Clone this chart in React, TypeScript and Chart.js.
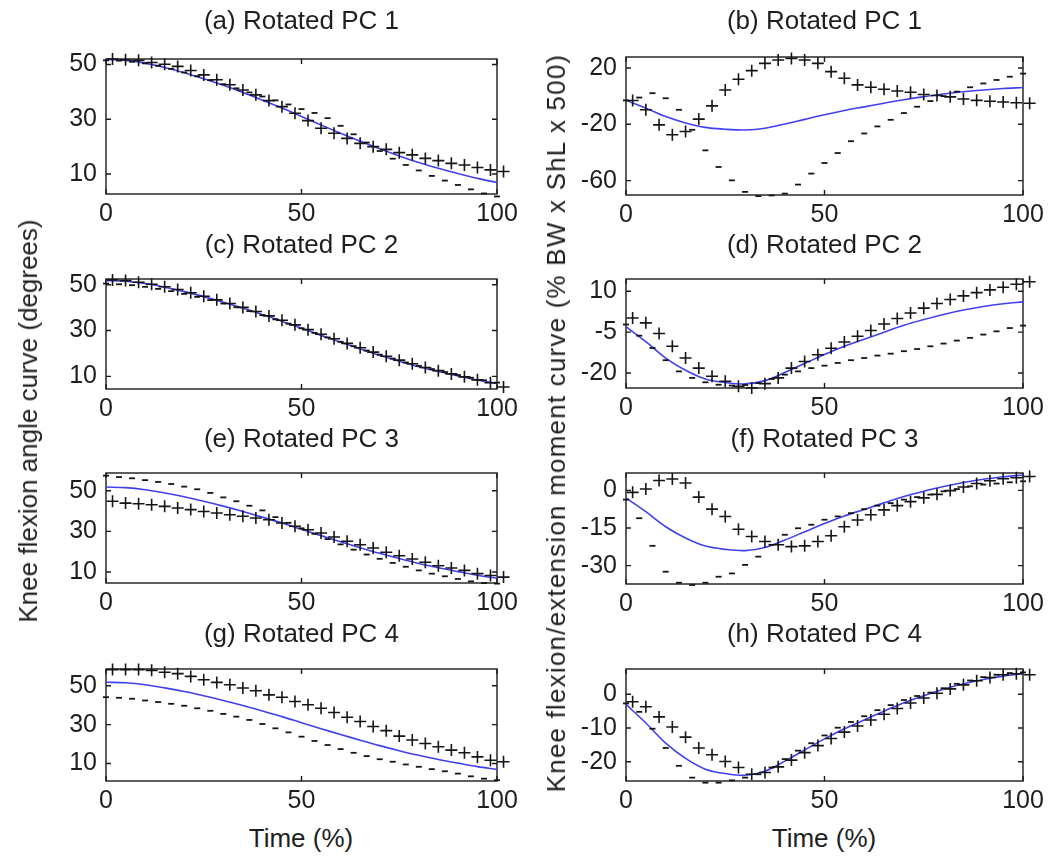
import React, { useEffect, useRef } from 'react';
import { Chart, registerables } from 'chart.js';

Chart.register(...registerables);

// ---------- sampling grids (percent of time) ----------
const MEAN_X = [0, 5, 10, 15, 20, 25, 30, 35, 40, 45, 50, 55, 60, 65, 70, 75, 80, 85, 90, 95, 100];
const PLUS_X = [1.67, 5, 8.33, 11.67, 15, 18.33, 21.67, 25, 28.33, 31.67, 35, 38.33, 41.67, 45, 48.33, 51.67, 55, 58.33, 61.67, 65, 68.33, 71.67, 75, 78.33, 81.67, 85, 88.33, 91.67, 95, 98.33, 101.67];
const DASH_X = [0, 3.33, 6.67, 10, 13.33, 16.67, 20, 23.33, 26.67, 30, 33.33, 36.67, 40, 43.33, 46.67, 50, 53.33, 56.67, 60, 63.33, 66.67, 70, 73.33, 76.67, 80, 83.33, 86.67, 90, 93.33, 96.67, 100];

// ---------- tick labels ----------
const X_TICKS = [0, 50, 100];
const ANGLE_TICKS = [10, 30, 50];
const PC1_MOMENT_TICKS = [-60, -20, 20];
const PC2_MOMENT_TICKS = [-20, -5, 10];
const PC3_MOMENT_TICKS = [-30, -15, 0];
const PC4_MOMENT_TICKS = [-20, -10, 0];

// ---------- mean curves ----------
const ANGLE_MEAN = [51.8, 51.5, 50.5, 48.9, 47, 44.8, 42.4, 39.8, 37, 34.1, 31, 27.9, 24.9, 22, 19.2, 16.6, 14.2, 12.1, 10.2, 8.4, 6.9];
const MOMENT_MEAN = [-3, -8.5, -14.5, -19, -22.2, -23.5, -24, -22.8, -19.8, -16.5, -13.2, -10.2, -7.6, -5, -2.5, -0.4, 1.5, 3.1, 4.4, 5.4, 6.1];

// ---------- knee angle: + and - curves ----------
const PC1_ANGLE_PLUS = [52, 51.7, 51.5, 50.7, 50.1, 49.3, 47.8, 46.2, 44.4, 42.6, 40.7, 38.9, 36.8, 34.6, 32.2, 29.5, 26.7, 24.9, 23, 21.2, 20, 19, 17.8, 17, 15.7, 14.9, 13.9, 13.3, 12.4, 11.5, 10.9];
const PC1_ANGLE_MINUS = [51.5, 51.4, 51, 50.4, 49.5, 48.4, 47.1, 45.7, 44.3, 42.8, 41.3, 39.8, 38.3, 36.9, 35.4, 33.7, 32.3, 30.4, 27.6, 24.5, 21.5, 18.4, 15.6, 13.3, 11.3, 9.3, 7.6, 6, 4.4, 2.9, 1.8];
const PC2_ANGLE_PLUS = [52.1, 51.8, 51.1, 50.2, 49.1, 47.9, 46.5, 45, 43.4, 41.8, 40.1, 38.3, 36.4, 34.5, 32.5, 30.4, 28.4, 26.4, 24.4, 22.5, 20.6, 18.8, 17.1, 15.5, 13.9, 12.5, 11.1, 9.8, 8.5, 7.2, 5.4];
const PC2_ANGLE_MINUS = [50.5, 50.2, 49.8, 49.1, 48.2, 47.2, 46, 44.7, 43.3, 41.8, 40.2, 38.5, 36.7, 34.9, 33, 31, 29, 27, 25.1, 23.2, 21.3, 19.5, 17.8, 16.1, 14.6, 13.2, 11.9, 10.6, 9.4, 8.3, 7.3];
const PC3_ANGLE_PLUS = [44.8, 43.9, 43.6, 43.1, 42.3, 41.5, 40.7, 39.8, 39, 38.2, 37.4, 36.6, 35.7, 34.1, 32.5, 30.8, 29.2, 27.2, 25.1, 23.4, 21.8, 19.7, 18, 16.4, 14.8, 13.1, 12, 10.8, 9.2, 8.3, 7.5];
const PC3_ANGLE_MINUS = [57.4, 56.7, 56.1, 55.2, 54.3, 53.3, 52, 50.7, 48.9, 46.7, 44.8, 42.6, 40.3, 37, 34.2, 31.5, 28.8, 26.2, 23.6, 21, 18.6, 16.5, 14.5, 12.6, 10.8, 9.2, 7.9, 6.6, 5.4, 4.6, 4.3];
const PC4_ANGLE_PLUS = [58.3, 58.3, 58.3, 57.9, 56.9, 56.2, 54.8, 53.1, 51.7, 50.5, 48.8, 47.4, 45.3, 44.1, 41.9, 40.2, 38.4, 36.2, 33.8, 31.6, 29, 26.9, 24.1, 22.1, 20.3, 18.6, 16.9, 15.5, 13.4, 11.7, 10.9];
const PC4_ANGLE_MINUS = [44.1, 43.8, 43.3, 42.4, 41.6, 40.7, 39.7, 38.4, 37.1, 35.5, 34.1, 32.4, 30.3, 28.1, 26, 23.8, 21.6, 19.5, 17.4, 15.5, 13.8, 12.2, 10.9, 9.5, 8.3, 7.1, 6, 4.8, 3.4, 2.2, 1.4];

// ---------- knee moment: + and - curves ----------
const PC1_MOMENT_PLUS = [-3.1, -9.7, -20.4, -27.4, -25.1, -16.3, -6.9, 4.4, 12, 18.1, 23.3, 25.7, 26.8, 25.7, 23.3, 17.4, 12.7, 8, 6.3, 4.9, 3.7, 2.8, 1.2, 0.5, -0.5, -2, -3, -3.6, -4.2, -4.7, -5];
const PC1_MOMENT_MINUS = [-3, -1, 2.1, -1.5, -9.7, -23.9, -38.5, -50.3, -59.8, -68, -71, -70.5, -69.2, -62.8, -55, -47.5, -40.4, -32, -26.5, -21.5, -16.8, -12, -7.5, -3.5, 0, 3.2, 6.3, 9, 11.5, 13.8, 16];
const PC2_MOMENT_PLUS = [0.2, -1.6, -5.5, -10.2, -14.5, -18.2, -21.2, -23, -24.9, -25.5, -23.9, -21.8, -18.2, -15.8, -13.3, -10.9, -8.6, -6.5, -4.4, -2, 0, 2, 3.8, 5.5, 7, 8.3, 9.5, 10.5, 11.5, 12.6, 13.5];
const PC2_MOMENT_MINUS = [-2.2, -6.3, -10.8, -15.3, -19.4, -21.8, -23.4, -24.3, -24.6, -24.4, -23.7, -22.2, -20.6, -19.4, -18.2, -17.3, -16.3, -15.3, -14.5, -13.6, -12.9, -12, -11.2, -10.2, -9.2, -8.1, -7.1, -5.9, -4.7, -3.5, -2.6];
const PC3_MOMENT_PLUS = [-0.8, 0.5, 3.9, 4.5, 2.9, -2.7, -7.5, -10.4, -15.5, -18.4, -20.4, -21.7, -22.4, -22.1, -20.4, -18.1, -14.5, -11.8, -9.7, -7.8, -6.1, -4.5, -3, -1.6, -0.1, 1.3, 2.7, 3.8, 4.6, 5, 5.5];
const PC3_MOMENT_MINUS = [-3.7, -11.1, -22.1, -32.4, -36.8, -37.7, -36.8, -34.4, -33.1, -29.7, -26.4, -21.7, -17.7, -15.1, -13.7, -11.7, -10.4, -9.1, -7.5, -6.1, -5.1, -3.7, -2.7, -1.7, -0.4, 0.5, 1.6, 2.3, 2.7, 3.2, 3.6];
const PC4_MOMENT_PLUS = [-2.2, -3.7, -6.7, -9.7, -12.7, -15.9, -17.9, -19.9, -21.7, -23.7, -23.2, -21.5, -19.5, -17.3, -15.2, -13.1, -11.2, -9.4, -7.6, -5.9, -4.2, -2.6, -1.1, 0.3, 1.6, 2.8, 4, 5, 5.8, 6.1, 5.8];
const PC4_MOMENT_MINUS = [-2.7, -5.2, -10.2, -15.9, -21.2, -24.7, -26.2, -26.2, -25.5, -24.7, -23.7, -21.7, -19.2, -16.7, -14.5, -12.2, -9.9, -8.2, -6.5, -4.7, -3.2, -1.7, -0.5, 0.5, 1.8, 3.1, 4.1, 5.1, 5.8, 6.3, 6.5];

// ---------- layout / style ----------
const FONT = '"Liberation Sans", Arial, Helvetica, sans-serif';
const TEXT_COLOR = '#1e1e1e';
const PAD_L = 64;
const PAD_T = 28;
const PAD_R = 34;
const PAD_B = 38;

type PanelCfg = {
  title: string;
  titleY: number;
  left: number;
  top: number;
  width: number;
  height: number;
  yMin: number;
  yMax: number;
  yTicks: number[];
  mean: number[];
  plus: number[];
  minus: number[];
};

const PANELS: PanelCfg[] = [
  { title: '(a) Rotated PC 1', titleY: 20, left: 106, top: 59, width: 391, height: 135, yMin: 2.7, yMax: 52, yTicks: ANGLE_TICKS, mean: ANGLE_MEAN, plus: PC1_ANGLE_PLUS, minus: PC1_ANGLE_MINUS },
  { title: '(b) Rotated PC 1', titleY: 20, left: 626, top: 57, width: 397, height: 138, yMin: -70.2, yMax: 27.8, yTicks: PC1_MOMENT_TICKS, mean: MOMENT_MEAN, plus: PC1_MOMENT_PLUS, minus: PC1_MOMENT_MINUS },
  { title: '(c) Rotated PC 2', titleY: 244, left: 106, top: 279, width: 391, height: 110, yMin: 4.5, yMax: 52.5, yTicks: ANGLE_TICKS, mean: ANGLE_MEAN, plus: PC2_ANGLE_PLUS, minus: PC2_ANGLE_MINUS },
  { title: '(d) Rotated PC 2', titleY: 244, left: 626, top: 279, width: 397, height: 109, yMin: -25.5, yMax: 14.5, yTicks: PC2_MOMENT_TICKS, mean: MOMENT_MEAN, plus: PC2_MOMENT_PLUS, minus: PC2_MOMENT_MINUS },
  { title: '(e) Rotated PC 3', titleY: 438, left: 106, top: 473, width: 391, height: 110, yMin: 4.6, yMax: 58.7, yTicks: ANGLE_TICKS, mean: ANGLE_MEAN, plus: PC3_ANGLE_PLUS, minus: PC3_ANGLE_MINUS },
  { title: '(f) Rotated PC 3', titleY: 438, left: 626, top: 473, width: 397, height: 111, yMin: -37.3, yMax: 6.9, yTicks: PC3_MOMENT_TICKS, mean: MOMENT_MEAN, plus: PC3_MOMENT_PLUS, minus: PC3_MOMENT_MINUS },
  { title: '(g) Rotated PC 4', titleY: 633, left: 106, top: 669, width: 391, height: 112, yMin: 1, yMax: 58.6, yTicks: ANGLE_TICKS, mean: ANGLE_MEAN, plus: PC4_ANGLE_PLUS, minus: PC4_ANGLE_MINUS },
  { title: '(h) Rotated PC 4', titleY: 633, left: 626, top: 669, width: 397, height: 112, yMin: -25.7, yMax: 7.5, yTicks: PC4_MOMENT_TICKS, mean: MOMENT_MEAN, plus: PC4_MOMENT_PLUS, minus: PC4_MOMENT_MINUS },
];

const toPts = (xs: number[], ys: number[]) => xs.map((x, i) => ({ x, y: ys[i] }));

// MATLAB-like box with inward tick marks
const framePlugin = {
  id: 'matlabFrame',
  beforeDatasetsDraw(chart: any) {
    const { ctx, chartArea: a, scales } = chart;
    const xs = scales.x;
    const ys = scales.y;
    const tl = 5;
    ctx.save();
    ctx.strokeStyle = '#1a1a1a';
    ctx.lineWidth = 1.4;
    ctx.strokeRect(a.left, a.top, a.right - a.left, a.bottom - a.top);
    ctx.beginPath();
    ys.ticks.forEach((t: any) => {
      const py = ys.getPixelForValue(t.value);
      ctx.moveTo(a.left, py);
      ctx.lineTo(a.left + tl, py);
      ctx.moveTo(a.right, py);
      ctx.lineTo(a.right - tl, py);
    });
    xs.ticks.forEach((t: any) => {
      const px = xs.getPixelForValue(t.value);
      ctx.moveTo(px, a.top);
      ctx.lineTo(px, a.top + tl);
      ctx.moveTo(px, a.bottom);
      ctx.lineTo(px, a.bottom - tl);
    });
    ctx.stroke();
    ctx.restore();
  },
};

function Panel({ cfg }: { cfg: PanelCfg }) {
  const ref = useRef<HTMLCanvasElement>(null);
  const cw = cfg.width + PAD_L + PAD_R;
  const ch = cfg.height + PAD_T + PAD_B;

  useEffect(() => {
    if (!ref.current) return;
    const tickFont = { family: FONT, size: 25 };
    const chart = new Chart(ref.current, {
      type: 'line',
      data: {
        datasets: [
          {
            label: 'mean',
            data: toPts(MEAN_X, cfg.mean),
            borderColor: '#4141ec',
            borderWidth: 1.6,
            pointRadius: 0,
            tension: 0.35,
            fill: false,
            clip: false as any,
            order: 3,
          },
          {
            label: 'plus',
            data: toPts(PLUS_X, cfg.plus),
            showLine: false,
            pointStyle: 'cross',
            pointRadius: 6,
            pointBorderWidth: 1.6,
            pointBorderColor: '#151515',
            borderColor: '#151515',
            backgroundColor: '#151515',
            clip: false as any,
            order: 1,
          },
          {
            label: 'minus',
            data: toPts(DASH_X, cfg.minus),
            showLine: false,
            pointStyle: 'line',
            pointRadius: 3,
            pointBorderWidth: 1.8,
            pointBorderColor: '#151515',
            borderColor: '#151515',
            backgroundColor: '#151515',
            clip: false as any,
            order: 2,
          },
        ] as any,
      },
      options: {
        animation: false,
        responsive: false,
        devicePixelRatio: 1,
        events: [],
        layout: { padding: { left: 0, top: PAD_T, right: PAD_R, bottom: 0 } },
        plugins: {
          legend: { display: false },
          tooltip: { enabled: false },
          title: { display: false },
        },
        scales: {
          x: {
            type: 'linear',
            min: 0,
            max: 100,
            afterBuildTicks: (s: any) => {
              s.ticks = X_TICKS.map((v) => ({ value: v }));
            },
            afterFit: (s: any) => {
              s.height = PAD_B;
            },
            grid: { display: false, drawTicks: false },
            border: { display: false },
            ticks: {
              font: tickFont,
              color: TEXT_COLOR,
              padding: 5,
              maxRotation: 0,
              autoSkip: false,
              callback: (v: any) => String(v),
            },
          },
          y: {
            type: 'linear',
            min: cfg.yMin,
            max: cfg.yMax,
            afterBuildTicks: (s: any) => {
              s.ticks = cfg.yTicks.map((v) => ({ value: v }));
            },
            afterFit: (s: any) => {
              s.width = PAD_L;
            },
            grid: { display: false, drawTicks: false },
            border: { display: false },
            ticks: {
              font: tickFont,
              color: TEXT_COLOR,
              padding: 9,
              autoSkip: false,
              callback: (v: any) => String(v),
            },
          },
        },
      } as any,
      plugins: [framePlugin],
    });
    return () => chart.destroy();
  }, [cfg]);

  return (
    <canvas
      ref={ref}
      width={cw}
      height={ch}
      style={{
        position: 'absolute',
        left: cfg.left - PAD_L,
        top: cfg.top - PAD_T,
        width: cw,
        height: ch,
        display: 'block',
      }}
    />
  );
}

const textStyle = (cx: number, cy: number, size: number, rotate = 0, spacing = 0): React.CSSProperties => ({
  position: 'absolute',
  left: cx,
  top: cy,
  transform: `translate(-50%, -50%) rotate(${rotate}deg)`,
  fontFamily: FONT,
  fontSize: size,
  color: TEXT_COLOR,
  whiteSpace: 'nowrap',
  lineHeight: 1,
  letterSpacing: spacing,
});

export default function App() {
  return (
    <div
      style={{
        position: 'absolute',
        left: 0,
        top: 0,
        width: 1053,
        height: 856,
        background: '#fff',
        overflow: 'hidden',
      }}
    >
      {PANELS.map((p) => (
        <React.Fragment key={p.title}>
          <Panel cfg={p} />
          <div style={textStyle(p.left + p.width / 2, p.titleY, 26)}>{p.title}</div>
        </React.Fragment>
      ))}
      <div style={textStyle(301, 838, 26)}>Time (%)</div>
      <div style={textStyle(824, 838, 26)}>Time (%)</div>
      <div style={textStyle(28, 421, 26, -90)}>Knee flexion angle curve (degrees)</div>
      <div style={textStyle(556, 423, 26, -90, 1.2)}>Knee flexion/extension moment curve (% BW x ShL x 500)</div>
    </div>
  );
}
